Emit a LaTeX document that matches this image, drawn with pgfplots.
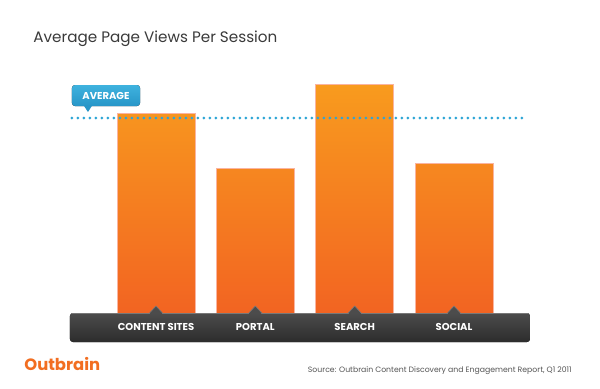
\documentclass[border=0pt]{standalone}
\usepackage{pgfplots}
\pgfplotsset{compat=1.18}
\usepackage{fontspec}
\setmainfont{Poppins}
\definecolor{bartop}{RGB}{248,155,30}
\definecolor{barbot}{RGB}{242,100,34}
\definecolor{baredge}{RGB}{250,180,160}
\definecolor{striptop}{RGB}{76,76,76}
\definecolor{stripbot}{RGB}{44,44,44}
\definecolor{stripedge}{RGB}{120,120,120}
\definecolor{avgblue}{RGB}{45,165,214}
\definecolor{boxtop}{RGB}{62,178,222}
\definecolor{boxbot}{RGB}{40,150,200}
\definecolor{titlegray}{RGB}{58,58,58}
\definecolor{srcgray}{RGB}{85,85,85}
\definecolor{logoorange}{RGB}{242,110,33}
\begin{document}
\begin{tikzpicture}
\fill[white] (0,0) rectangle (300pt,194pt);
\begin{scope}[overlay]
\begin{axis}[
  at={(0,0)}, anchor=south west,
  x=49.665pt, y=50pt,
  xmin=-1.5705, xmax=4.470, ymin=-0.75, ymax=3.13,
  axis lines=none, ticks=none, clip=false,
]
% strip
\fill[top color=striptop, bottom color=stripbot, rounded corners=1.5pt]
  (axis cs:-0.866,0) rectangle (axis cs:3.765,-0.29);
\addplot[ybar, bar width=0.785, top color=bartop, bottom color=barbot,
  draw=baredge, line width=0.4pt]
  coordinates {(0,2.00) (1,1.45) (2,2.29) (3,1.50)};
\draw[stripedge, line width=0.35pt] (axis cs:-0.85,0) -- (axis cs:3.75,0);
% triangles
\filldraw[fill=striptop, draw=stripedge, line width=0.3pt] (axis cs:-0.065,0) -- (axis cs:0,0.07) -- (axis cs:0.065,0);
\filldraw[fill=striptop, draw=stripedge, line width=0.3pt] (axis cs:0.935,0) -- (axis cs:1,0.07) -- (axis cs:1.065,0);
\filldraw[fill=striptop, draw=stripedge, line width=0.3pt] (axis cs:1.935,0) -- (axis cs:2,0.07) -- (axis cs:2.065,0);
\filldraw[fill=striptop, draw=stripedge, line width=0.3pt] (axis cs:2.935,0) -- (axis cs:3,0.07) -- (axis cs:3.065,0);
\fill[striptop] (axis cs:-0.06,-0.004) rectangle (axis cs:0.06,-0.01);
\fill[striptop] (axis cs:0.94,-0.004) rectangle (axis cs:1.06,-0.01);
\fill[striptop] (axis cs:1.94,-0.004) rectangle (axis cs:2.06,-0.01);
\fill[striptop] (axis cs:2.94,-0.004) rectangle (axis cs:3.06,-0.01);
% labels
\node[white, font=\bfseries\fontsize{5}{6}\selectfont] at (axis cs:0,-0.14) {CONTENT SITES};
\node[white, font=\bfseries\fontsize{5}{6}\selectfont] at (axis cs:1,-0.14) {PORTAL};
\node[white, font=\bfseries\fontsize{5}{6}\selectfont] at (axis cs:2,-0.14) {SEARCH};
\node[white, font=\bfseries\fontsize{5}{6}\selectfont] at (axis cs:3,-0.14) {SOCIAL};
% average line
\addplot[avgblue, line width=1.5pt, line cap=round, dash pattern=on 0pt off 3pt]
  coordinates {(-0.846,1.95) (3.715,1.95)};
% average box
\fill[top color=boxtop, bottom color=boxbot, rounded corners=1.5pt]
  (axis cs:-0.846,2.28) rectangle (axis cs:-0.161,2.07);
\fill[boxbot] (axis cs:-0.725,2.071) -- (axis cs:-0.685,2.01) -- (axis cs:-0.645,2.071) -- cycle;
\node[white, font=\bfseries\fontsize{5}{6}\selectfont] at (axis cs:-0.5035,2.175) {AVERAGE};
% title
\node[anchor=base west, inner sep=0pt, text=titlegray, font=\fontsize{7.6}{9}\selectfont]
  at (axis cs:-1.238,2.71) {Average Page Views Per Session};
% logo
\node[anchor=base west, inner sep=0pt, text=logoorange, font=\bfseries\fontsize{8.2}{10}\selectfont]
  at (axis cs:-1.329,-0.57) {Outbrain};
% source
\node[anchor=base east, inner sep=0pt, text=srcgray, font=\fontsize{3.87}{5}\selectfont]
  at (axis cs:4.188,-0.59) {Source: Outbrain Content Discovery and Engagement Report, Q1 2011};
\end{axis}
\end{scope}
\end{tikzpicture}
\end{document}
